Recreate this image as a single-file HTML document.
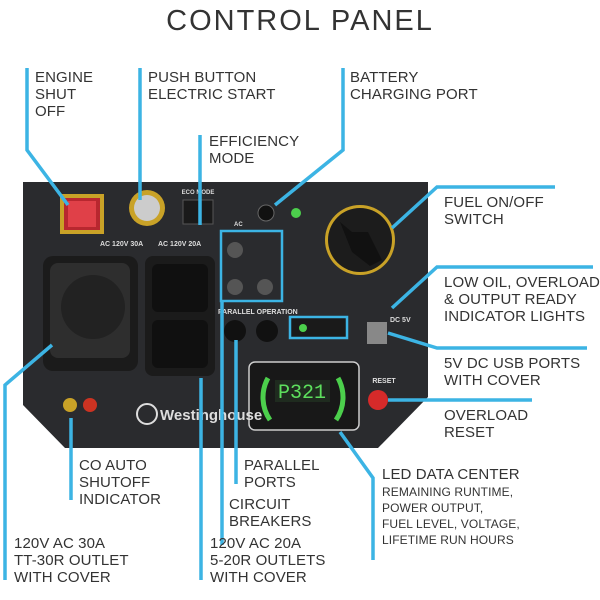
<!DOCTYPE html>
<html><head><meta charset="utf-8"><style>
html,body{margin:0;padding:0;background:#fff;}
svg{display:block}
.t{font-family:"Liberation Sans",sans-serif;font-size:15px;fill:#333;letter-spacing:0.1px;}
.s{font-family:"Liberation Sans",sans-serif;font-size:12px;fill:#333;letter-spacing:0.1px;}
.w{font-family:"Liberation Sans",sans-serif;fill:#ddd;font-weight:bold;}
.L{stroke:#3cb4e4;stroke-width:3.5;fill:none;}
</style></head><body>
<svg width="600" height="600" viewBox="0 0 600 600" xmlns="http://www.w3.org/2000/svg">
<rect width="600" height="600" fill="#fff"/>
<text x="300" y="30" text-anchor="middle" font-family="Liberation Sans,sans-serif" font-size="29" fill="#333" letter-spacing="2">CONTROL PANEL</text>

<path d="M23,182 H428 V397 L378,448 H65 L23,405 Z" fill="#2a2b2e"/>
<rect x="60" y="194" width="44" height="40" fill="#c9a227"/>
<rect x="64" y="198" width="36" height="32" fill="#b8272f"/>
<rect x="68" y="201" width="28" height="26" fill="#e04048"/>
<circle cx="147" cy="208" r="18" fill="#c9a227"/>
<circle cx="147" cy="208" r="13" fill="#ccc"/>
<rect x="183" y="200" width="30" height="24" fill="#1a1a1a" stroke="#555"/>
<text x="198" y="194" text-anchor="middle" class="w" font-size="6">ECO MODE</text>
<text x="100" y="246" class="w" font-size="7">AC 120V 30A</text>
<text x="158" y="246" class="w" font-size="7">AC 120V 20A</text>
<circle cx="266" cy="213" r="8" fill="#111" stroke="#666"/>
<circle cx="296" cy="213" r="5" fill="#4ccf4c"/>
<circle cx="360" cy="240" r="35" fill="#c9a227"/>
<circle cx="360" cy="240" r="32" fill="#1c1c1c"/>
<path d="M340,222 L352,232 L368,232 L382,260 L370,266 L352,252 Z" fill="#111"/>
<rect x="43" y="256" width="95" height="115" rx="10" fill="#1b1b1b"/>
<rect x="50" y="263" width="80" height="95" rx="8" fill="#2e2e2e"/>
<circle cx="93" cy="307" r="32" fill="#222"/>
<rect x="145" y="256" width="70" height="120" rx="8" fill="#1b1b1b"/>
<rect x="152" y="264" width="56" height="48" rx="6" fill="#101010"/>
<rect x="152" y="320" width="56" height="48" rx="6" fill="#101010"/>
<text x="234" y="226" class="w" font-size="6">AC</text>
<rect x="221" y="231" width="61" height="70" fill="none" stroke="#3cb4e4" stroke-width="2.5"/>
<circle cx="235" cy="250" r="8" fill="#555"/><circle cx="235" cy="287" r="8" fill="#555"/><circle cx="265" cy="287" r="8" fill="#555"/>
<text x="218" y="314" class="w" font-size="7">PARALLEL OPERATION</text>
<circle cx="235" cy="331" r="11" fill="#111"/><circle cx="267" cy="331" r="11" fill="#111"/>
<rect x="290" y="317" width="57" height="21" fill="#1a1a1a" stroke="#3cb4e4" stroke-width="2.5"/>
<circle cx="303" cy="328" r="4" fill="#4ccf4c"/>
<rect x="367" y="322" width="20" height="22" fill="#888"/>
<text x="390" y="322" class="w" font-size="7">DC 5V</text>
<text x="384" y="383" class="w" font-size="7" text-anchor="middle">RESET</text>
<circle cx="378" cy="400" r="10" fill="#d62a2a"/>
<rect x="249" y="362" width="110" height="68" rx="6" fill="#181818" stroke="#ccc" stroke-width="1.5"/>
<rect x="275" y="380" width="55" height="22" fill="#1f2b1f"/>
<text x="302" y="398" text-anchor="middle" font-family="Liberation Mono,monospace" font-size="20" fill="#5de05d">P321</text>
<path d="M268,378 A40,40 0 0 0 270,420" stroke="#4ccf4c" stroke-width="5" fill="none"/>
<path d="M338,378 A40,40 0 0 1 336,420" stroke="#4ccf4c" stroke-width="5" fill="none"/>
<circle cx="70" cy="405" r="7" fill="#c9a227"/><circle cx="90" cy="405" r="7" fill="#c32"/>
<circle cx="147" cy="414" r="10" fill="none" stroke="#ddd" stroke-width="2"/>
<text x="160" y="420" class="w" font-size="15">Westinghouse</text>

<polyline class="L" points="27,68 27,150 68,205"/>
<polyline class="L" points="140,68 140,200"/>
<polyline class="L" points="200,135 200,225"/>
<polyline class="L" points="343,68 343,150 275,205"/>
<polyline class="L" points="555,187 437,187 392,228"/>
<polyline class="L" points="593,267 437,267 392,308"/>
<polyline class="L" points="388,333 437,348 587,348"/>
<polyline class="L" points="388,400 532,400"/>
<polyline class="L" points="340,432 373,478 373,560"/>
<polyline class="L" points="52,345 5,385 5,580"/>
<polyline class="L" points="71,418 71,500"/>
<polyline class="L" points="201,378 201,580"/>
<polyline class="L" points="222,300 222,545"/>
<polyline class="L" points="236,340 236,484"/>

<text class="t" x="35" y="82">ENGINE</text><text class="t" x="35" y="99">SHUT</text><text class="t" x="35" y="116">OFF</text>
<text class="t" x="148" y="82">PUSH BUTTON</text><text class="t" x="148" y="99">ELECTRIC START</text>
<text class="t" x="350" y="82">BATTERY</text><text class="t" x="350" y="99">CHARGING PORT</text>
<text class="t" x="209" y="146">EFFICIENCY</text><text class="t" x="209" y="163">MODE</text>
<text class="t" x="444" y="207">FUEL ON/OFF</text><text class="t" x="444" y="224">SWITCH</text>
<text class="t" x="444" y="287">LOW OIL, OVERLOAD</text><text class="t" x="444" y="304">&amp; OUTPUT READY</text><text class="t" x="444" y="321">INDICATOR LIGHTS</text>
<text class="t" x="444" y="368">5V DC USB PORTS</text><text class="t" x="444" y="385">WITH COVER</text>
<text class="t" x="444" y="420">OVERLOAD</text><text class="t" x="444" y="437">RESET</text>
<text class="t" x="244" y="470">PARALLEL</text><text class="t" x="244" y="487">PORTS</text>
<text class="t" x="79" y="470">CO AUTO</text><text class="t" x="79" y="487">SHUTOFF</text><text class="t" x="79" y="504">INDICATOR</text>
<text class="t" x="229" y="509">CIRCUIT</text><text class="t" x="229" y="526">BREAKERS</text>
<text class="t" x="382" y="479">LED DATA CENTER</text>
<text class="s" x="382" y="496">REMAINING RUNTIME,</text><text class="s" x="382" y="512">POWER OUTPUT,</text><text class="s" x="382" y="528">FUEL LEVEL, VOLTAGE,</text><text class="s" x="382" y="544">LIFETIME RUN HOURS</text>
<text class="t" x="14" y="548">120V AC 30A</text><text class="t" x="14" y="565">TT-30R OUTLET</text><text class="t" x="14" y="582">WITH COVER</text>
<text class="t" x="210" y="548">120V AC 20A</text><text class="t" x="210" y="565">5-20R OUTLETS</text><text class="t" x="210" y="582">WITH COVER</text>
</svg>
</body></html>
